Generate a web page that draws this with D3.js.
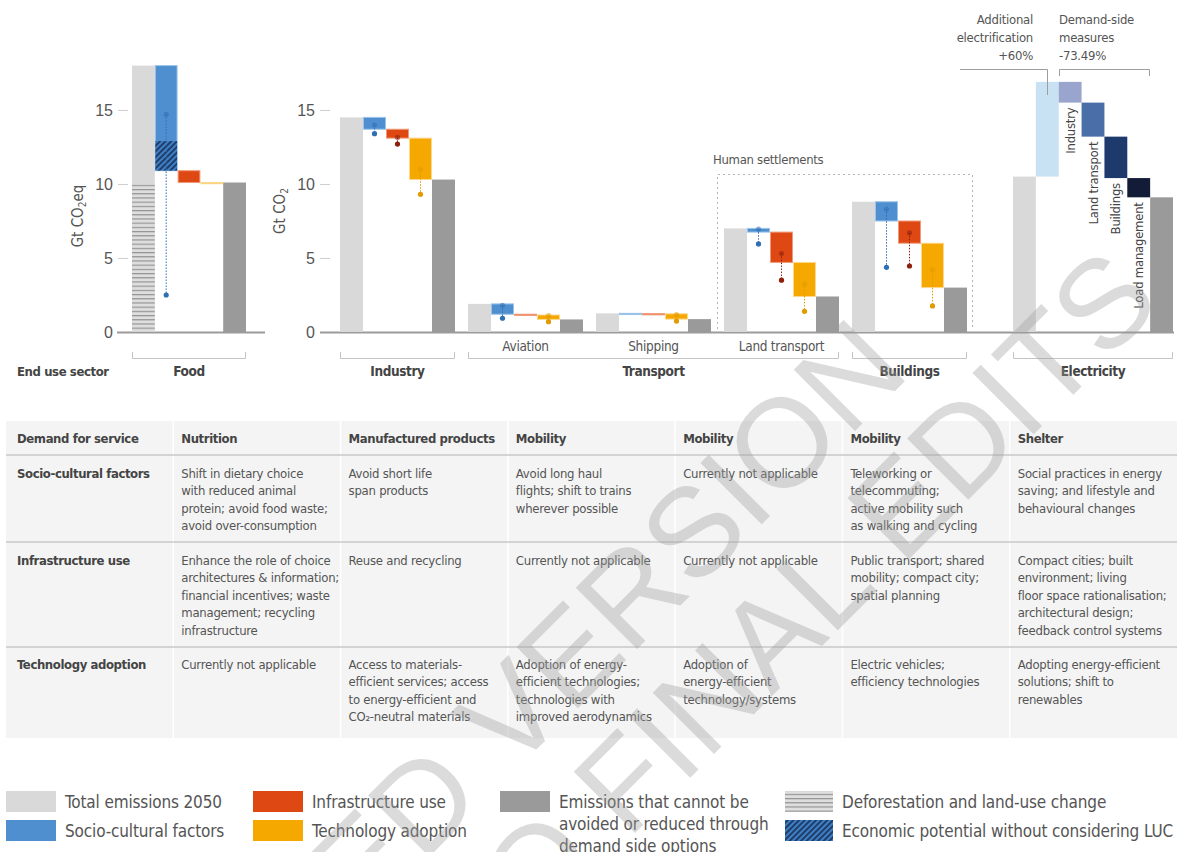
<!DOCTYPE html>
<html><head><meta charset="utf-8">
<script src="https://cdn.jsdelivr.net/npm/d3@7/dist/d3.min.js"></script>
<style>
body{margin:0;background:#fff;}
svg{display:block;font-family:"DejaVu Sans Condensed","Liberation Sans Narrow","Arial Narrow",sans-serif;}
</style></head><body>
<svg id="chart" width="1177" height="852"></svg>
<script>
// ---------------- DATA ----------------
const sectorNames = ["Food","Industry","Aviation","Shipping","Land transport","Buildings"];
const totalEmissions = [18.0, 14.5, 1.9, 1.26, 7.0, 8.8];
const socioCultural = [7.1, 0.8, 0.7, 0.02, 0.25, 1.3];
const infrastructureUse = [0.8, 0.6, 0.05, 0.01, 2.05, 1.5];
const technologyAdoption = [0.0, 2.8, 0.3, 0.36, 2.3, 3.0];
const socioRange = [[14.7,2.5],[14.0,13.4],[1.8,0.93],null,[6.95,5.95],[8.3,4.37]];
const infraRange = [null,[13.15,12.7],null,null,[5.3,3.5],[6.7,4.46]];
const techRange = [null,[11.0,9.3],[1.1,0.7],[1.18,0.74],[3.25,1.4],[4.2,1.76]];
const foodDeforestation = 10.0;
const foodEconomicPotential = 2.0;

const elecSteps = ["Total","Additional electrification","Industry","Land transport","Buildings","Load management","Residual"];
const elecTotal = 10.5;
const elecAddition = 6.4;
const elecDemandCuts = [1.4, 2.3, 2.8, 1.3];
const elecDemandLabels = ["Industry","Land transport","Buildings","Load management"];

const yTicks = [0,5,10,15];

const tableHeader = ["Demand for service","Nutrition","Manufactured products","Mobility","Mobility","Mobility","Shelter"];
const rowLabels = ["Socio-cultural factors","Infrastructure use","Technology adoption"];
const cellsSocio = ["Shift in dietary choice\nwith reduced animal\nprotein; avoid food waste;\navoid over-consumption","Avoid short life\nspan products","Avoid long haul\nflights; shift to trains\nwherever possible","Currently not applicable","Teleworking or\ntelecommuting;\nactive mobility such\nas walking and cycling","Social practices in energy\nsaving; and lifestyle and\nbehavioural changes"];
const cellsInfra = ["Enhance the role of choice\narchitectures & information;\nfinancial incentives; waste\nmanagement; recycling\ninfrastructure","Reuse and recycling","Currently not applicable","Currently not applicable","Public transport; shared\nmobility; compact city;\nspatial planning","Compact cities; built\nenvironment; living\nfloor space rationalisation;\narchitectural design;\nfeedback control systems"];
const cellsTech = ["Currently not applicable","Access to materials-\nefficient services; access\nto energy-efficient and\nCO\u2082-neutral materials","Adoption of energy-\nefficient technologies;\ntechnologies with\nimproved aerodynamics","Adoption of\nenergy-efficient\ntechnology/systems","Electric vehicles;\nefficiency technologies","Adopting energy-efficient\nsolutions; shift to\nrenewables"];

const legendLabels = ["Total emissions 2050","Socio-cultural factors","Infrastructure use","Technology adoption","Emissions that cannot be\navoided or reduced through\ndemand side options","Deforestation and land-use change","Economic potential without considering LUC"];

const watermarkLines = ["ACCEPTED VERSION","SUBJECT TO FINAL EDITS"];

// ---------------- STYLE ----------------
const C = {
  total:"#d9d9d9", socio:"#4f8fcf", infra:"#de4813", tech:"#f5a800", resid:"#9a9a9a",
  socioS:"#9cc4ea", infraS:"#f29a78", techS:"#fcd890",
  socioD:"#2f6fb6", infraD:"#8e1f0c", techD:"#e09b00",
  elecAdd:"#c8e2f3", elecCuts:["#99a5cc","#4a6fa8","#1e3a6c","#121c36"],
  text:"#555", dark:"#444"
};
function font(sel, size, ls, bold){
  sel.style("font-size",size+"px");
  if(ls) sel.style("letter-spacing",ls+"px");
  if(bold) sel.style("font-weight","bold");
  return sel;
}

const svg = d3.select("#chart");
const defs = svg.append("defs");
const pH = defs.append("pattern").attr("id","luc").attr("patternUnits","userSpaceOnUse").attr("width",6).attr("height",4.2);
pH.append("rect").attr("width",6).attr("height",4.2).attr("fill","#dedede");
pH.append("line").attr("x1",0).attr("x2",6).attr("y1",0.6).attr("y2",0.6).attr("stroke","#8d8d8d").attr("stroke-width",1.1);
const pD = defs.append("pattern").attr("id","econ").attr("patternUnits","userSpaceOnUse").attr("width",4).attr("height",4).attr("patternTransform","rotate(45)");
pD.append("rect").attr("width",4).attr("height",4).attr("fill","#3f80c4");
pD.append("line").attr("x1",1).attr("x2",1).attr("y1",0).attr("y2",4).attr("stroke","#1b3560").attr("stroke-width",1.8);

// ---------------- SCALES ----------------
const y = d3.scaleLinear().domain([0,15]).range([332,110]);
const stepKeys = ["total","socio","infra","tech","resid"];
const xFood = d3.scaleBand().domain(stepKeys).range([132,246]);
const xGroup = d3.scaleBand().domain(sectorNames.slice(1)).range([340,967]).paddingInner(0.1016).paddingOuter(0);
const xStep = d3.scaleBand().domain(stepKeys).range([0,xGroup.bandwidth()]);
const xElec = d3.scaleBand().domain(elecSteps).range([1013,1173]);

// ---------------- AXES ----------------
function yAxis(x0, x1, axisX, title, titleX){
  const g = svg.append("g").attr("transform",`translate(${axisX},0)`)
    .call(d3.axisLeft(y).tickValues(yTicks).tickSize(10).tickPadding(5));
  g.select(".domain").remove();
  g.selectAll(".tick line").attr("stroke","#cfcfcf");
  g.selectAll(".tick text").attr("fill",C.text).style("font-size","16px").style("font-family","inherit");
  svg.append("line").attr("x1",x0).attr("x2",x1).attr("y1",y(0)+0.5).attr("y2",y(0)+0.5).attr("stroke","#9b9b9b").attr("stroke-width",2);
  const t = svg.append("text").attr("transform",`translate(${titleX},${title.cy}) rotate(-90)`)
    .attr("text-anchor","middle").attr("fill",C.text).style("font-size","15px");
  t.append("tspan").text(title.a);
  t.append("tspan").text("2").style("font-size","10px").attr("dy",3);
  if(title.b) t.append("tspan").text(title.b).attr("dy",-3);
}
yAxis(117,265,128,{a:"Gt CO",b:"eq",cy:216},83);
yAxis(320,1174,330,{a:"Gt CO",b:"",cy:211},285);

// ---------------- WATERFALLS ----------------
function rangeDots(g, cx, r, dark){
  if(!r) return;
  g.append("line").attr("x1",cx).attr("x2",cx).attr("y1",y(r[0])).attr("y2",y(r[1]))
    .attr("stroke",dark).attr("stroke-width",1).attr("stroke-dasharray","1.5,1.5");
  g.append("circle").attr("cx",cx).attr("cy",y(r[0])).attr("r",2.6).attr("fill",dark).attr("fill-opacity",0.55);
  g.append("circle").attr("cx",cx).attr("cy",y(r[1])).attr("r",2.6).attr("fill",dark);
}
function barRect(g, x, w, lo, hi, fill, stroke){
  const h = Math.max(1.2, y(lo)-y(hi));
  g.append("rect").attr("x",x).attr("width",w).attr("y",y(hi)).attr("height",h)
    .attr("fill",fill).attr("stroke",stroke||"none").attr("stroke-width",stroke?1:0);
}
sectorNames.forEach((name,i)=>{
  const g = svg.append("g");
  const xs = i===0 ? (k=>xFood(k)) : (k=>xGroup(name)+xStep(k));
  const bw = i===0 ? xFood.bandwidth() : xStep.bandwidth();
  const T = totalEmissions[i];
  const L1 = T - socioCultural[i], L2 = L1 - infrastructureUse[i], L3 = L2 - technologyAdoption[i];
  barRect(g, xs("total"), bw, 0, T, C.total);
  if(i===0) g.append("rect").attr("x",xs("total")).attr("width",bw).attr("y",y(foodDeforestation)).attr("height",y(0)-y(foodDeforestation)).attr("fill","url(#luc)");
  barRect(g, xs("socio")+0.5, bw-1, L1, T, C.socio, C.socioS);
  if(i===0) g.append("rect").attr("x",xs("socio")+0.5).attr("width",bw-1).attr("y",y(L1+foodEconomicPotential)).attr("height",y(L1)-y(L1+foodEconomicPotential)).attr("fill","url(#econ)");
  barRect(g, xs("infra")+0.5, bw-1, L2, L1, C.infra, C.infraS);
  barRect(g, xs("tech")+0.5, bw-1, L3, L2, C.tech, C.techS);
  barRect(g, xs("resid"), bw, 0, L3, C.resid);
  rangeDots(g, xs("socio")+bw/2, socioRange[i], C.socioD);
  rangeDots(g, xs("infra")+bw/2, infraRange[i], C.infraD);
  rangeDots(g, xs("tech")+bw/2, techRange[i], C.techD);
});

// Electricity
{
  const g = svg.append("g");
  const bw = xElec.bandwidth();
  barRect(g, xElec("Total"), bw, 0, elecTotal, C.total);
  const top = elecTotal + elecAddition;
  barRect(g, xElec("Additional electrification"), bw, elecTotal, top, C.elecAdd);
  let lvl = top;
  elecDemandCuts.forEach((c,j)=>{
    const k = elecDemandLabels[j];
    barRect(g, xElec(k), bw, lvl-c, lvl, C.elecCuts[j]);
    font(g.append("text").attr("transform",`translate(${xElec(k)+bw/2},${y(lvl-c)+5}) rotate(-90)`)
      .attr("text-anchor","end").attr("dominant-baseline","central").attr("fill",C.dark), 13, -0.25).text(k);
    lvl -= c;
  });
  barRect(g, xElec("Residual"), bw, 0, lvl, C.resid);
  const ann = font(svg.append("g").attr("fill",C.text), 13, -0.25);
  ["Additional","electrification","+60%"].forEach((s,j)=>ann.append("text").attr("x",1033).attr("y",24+j*18).attr("text-anchor","end").text(s));
  ["Demand-side","measures","-73.49%"].forEach((s,j)=>ann.append("text").attr("x",1059).attr("y",24+j*18).text(s));
  const ln = svg.append("g").attr("stroke","#9d9d9d").attr("fill","none").attr("stroke-width",1);
  ln.append("path").attr("d",`M960,69.5H1047.5V95`);
  ln.append("path").attr("d",`M1059.5,76V69.5H1149.5V76`);
}

// Human settlements box
svg.append("path").attr("d",`M717.5,329V174.5H972.5V329`).attr("fill","none").attr("stroke","#b5b5b5").attr("stroke-dasharray","2,3");
font(svg.append("text").attr("x",713).attr("y",164).attr("fill",C.text), 13, -0.3).text("Human settlements");

// sub-labels transport
["Aviation","Shipping","Land transport"].forEach(s=>{
  font(svg.append("text").attr("x",xGroup(s)+xGroup.bandwidth()/2).attr("y",351).attr("text-anchor","middle").attr("fill",C.text), 13.5, -0.3).text(s);
});
// sector brackets
const brackets = [
  {label:"Food", x0:xFood.range()[0], x1:xFood.range()[1]},
  {label:"Industry", x0:xGroup("Industry"), x1:xGroup("Industry")+xGroup.bandwidth()},
  {label:"Transport", x0:xGroup("Aviation"), x1:xGroup("Land transport")+xGroup.bandwidth()},
  {label:"Buildings", x0:xGroup("Buildings"), x1:xGroup("Buildings")+xGroup.bandwidth()},
  {label:"Electricity", x0:xElec.range()[0], x1:xElec.range()[1]}
];
brackets.forEach(b=>{
  svg.append("path").attr("d",`M${b.x0+0.5},352V358.5H${b.x1-0.5}V352`).attr("fill","none").attr("stroke","#c4c4c4");
  font(svg.append("text").attr("x",(b.x0+b.x1)/2).attr("y",376).attr("text-anchor","middle").attr("fill",C.dark), 13.5, -0.4, true).text(b.label);
});
font(svg.append("text").attr("x",17).attr("y",376).attr("fill",C.dark), 13, -0.4, true).text("End use sector");

// ---------------- TABLE ----------------
const tbl = svg.append("g");
const xCol = d3.scaleBand().domain(d3.range(7)).range([6,1177]);
tbl.append("rect").attr("x",6).attr("y",421).attr("width",1171).attr("height",317).attr("fill","#f4f4f4");
d3.range(1,7).forEach(c=>tbl.append("line").attr("x1",xCol(c)).attr("x2",xCol(c)).attr("y1",421).attr("y2",738).attr("stroke","#fff").attr("stroke-width",1.5));
[455,542,647].forEach(yy=>tbl.append("line").attr("x1",6).attr("x2",1177).attr("y1",yy).attr("y2",yy).attr("stroke","#c9c9c9").attr("stroke-width",1.5));
const tx = c => xCol(c) + (c===0?11:8);
tableHeader.forEach((h,c)=>font(tbl.append("text").attr("x",tx(c)).attr("y",443).attr("fill",C.dark), 13, -0.4, true).text(h));
const rowY = [478,565,669];
[cellsSocio,cellsInfra,cellsTech].forEach((row,r)=>{
  font(tbl.append("text").attr("x",tx(0)).attr("y",rowY[r]).attr("fill",C.dark), 13, -0.4, true).text(rowLabels[r]);
  row.forEach((cell,c)=>{
    const t = font(tbl.append("text").attr("x",tx(c+1)).attr("y",rowY[r]).attr("fill",C.text), 13, -0.25);
    cell.split("\n").forEach((ln,j)=>t.append("tspan").attr("x",tx(c+1)).attr("dy",j?17.4:0).text(ln));
  });
});

// ---------------- LEGEND ----------------
const lg = font(svg.append("g").attr("fill",C.text), 17, -0.15);
const legendFills = [C.total,C.socio,C.infra,C.tech,C.resid,"url(#luc)","url(#econ)"];
const legendPos = [[6,791],[6,820],[253,791],[253,820],[500,791],[785,791],[785,820]];
const legendSw = [50,50,50,50,50,48,48];
legendLabels.forEach((lab,i)=>{
  const [lx,ly] = legendPos[i];
  lg.append("rect").attr("x",lx).attr("y",ly).attr("width",legendSw[i]).attr("height",21).attr("fill",legendFills[i]);
  const t = lg.append("text").attr("x",lx+legendSw[i]+9).attr("y",ly+17);
  lab.split("\n").forEach((s,j)=>t.append("tspan").attr("x",lx+legendSw[i]+9).attr("dy",j?22:0).text(s));
});

// ---------------- WATERMARK ----------------
const wm = svg.append("g").attr("fill","#9a9a9a").attr("fill-opacity",0.36)
  .style("font-family","'Liberation Sans',Arial,sans-serif").style("font-size","126px").style("pointer-events","none");
const wmAnchors = [[912,374],[1164,304]];
watermarkLines.forEach((s,i)=>{
  wm.append("text").attr("transform",`translate(${wmAnchors[i][0]},${wmAnchors[i][1]}) rotate(-45)`).attr("text-anchor","end").text(s);
});
</script>
</body></html>
